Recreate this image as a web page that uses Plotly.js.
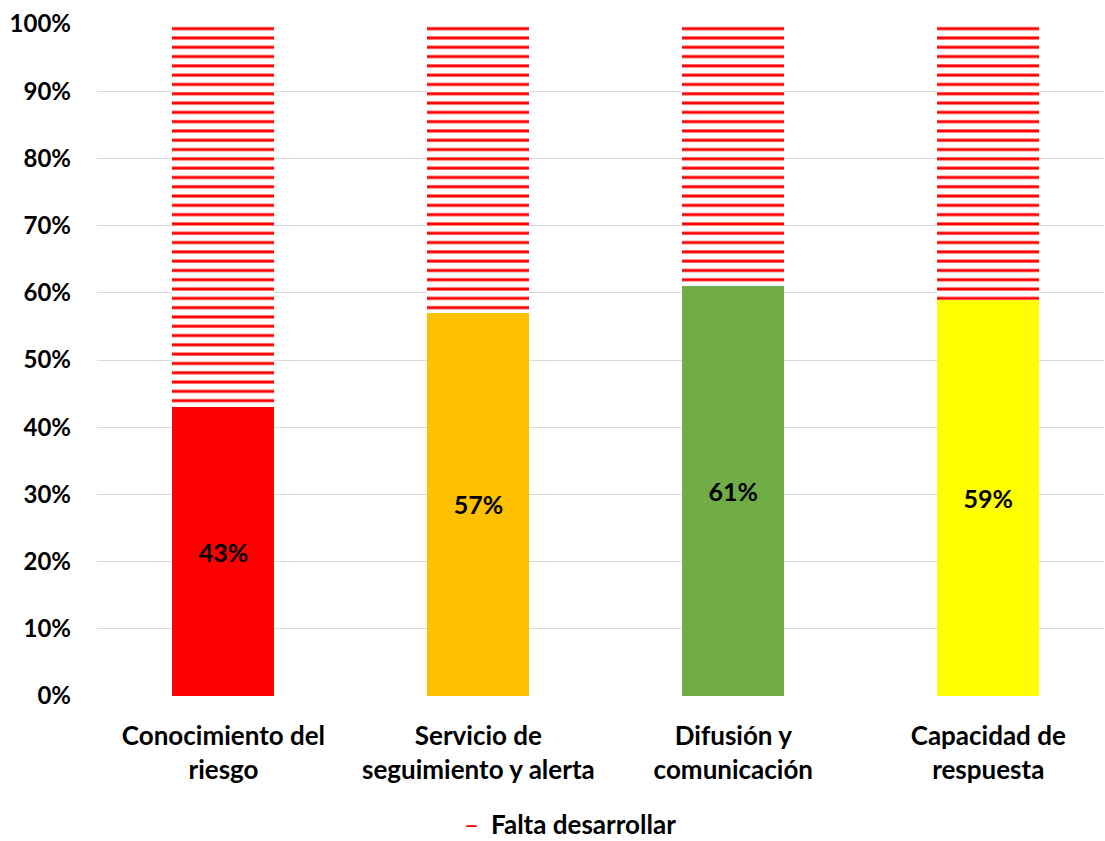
<!DOCTYPE html>
<html>
<head>
<meta charset="utf-8">
<script src="https://cdn.plot.ly/plotly-3.0.1.min.js"></script>
<style>
  html, body { margin: 0; padding: 0; background: #ffffff; }
  #chart { width: 1105px; height: 841px; }
</style>
</head>
<body>
<div id="chart"></div>
<script>
// Early-warning system components: share already developed vs. still missing
const categories = [
  'Conocimiento del<br>riesgo',
  'Servicio de<br>seguimiento y alerta',
  'Difusión y<br>comunicación',
  'Capacidad de<br>respuesta'
];
const developed = [43, 57, 61, 59];
const pending = [57, 43, 39, 41];
const barColors = ['#FF0000', '#FFC000', '#70AD47', '#FFFF00'];
const pendingName = 'Falta desarrollar';
const pendingColor = '#FF0000';
const yTicks = [0, 10, 20, 30, 40, 50, 60, 70, 80, 90, 100];
const yTickLabels = yTicks.map(v => v + '%');

const FONT = 'Lato, "Open Sans", sans-serif';

const traces = [
  {
    type: 'bar',
    x: categories,
    y: developed,
    marker: { color: barColors, line: { width: 0 } },
    text: developed.map(v => '<b>' + v + '%</b>'),
    textposition: 'inside',
    insidetextanchor: 'middle',
    textangle: 0,
    textfont: { family: FONT, size: 25, color: '#000000' },
    hoverinfo: 'skip',
    showlegend: false
  },
  {
    type: 'bar',
    name: pendingName,
    x: categories,
    y: pending,
    marker: {
      color: '#ffffff',
      line: { width: 0 },
      pattern: { shape: '-', fgcolor: pendingColor, bgcolor: '#ffffff', size: 9.3, solidity: 0.32 }
    },
    hoverinfo: 'skip',
    showlegend: false
  }
];

const layout = {
  width: 1105,
  height: 841,
  barmode: 'stack',
  bargap: 0.6,
  paper_bgcolor: '#ffffff',
  plot_bgcolor: '#ffffff',
  margin: { l: 97, r: 1, t: 24, b: 145 },
  showlegend: false,
  font: { family: FONT, color: '#000000' },
  xaxis: {
    range: [-0.496, 3.454],
    showgrid: false,
    zeroline: false,
    showline: false,
    ticks: '',
    tickfont: { family: FONT, size: 26, color: '#000000', weight: 'bold' },
    ticklabelstandoff: 22
  },
  yaxis: {
    range: [0, 100],
    tickvals: yTicks,
    ticktext: yTickLabels,
    showgrid: true,
    gridcolor: '#d9d9d9',
    gridwidth: 1,
    zeroline: false,
    showline: false,
    ticks: '',
    tickfont: { family: FONT, size: 24, color: '#000000', weight: 'bold' },
    ticklabelstandoff: 25
  },
  // Legend key for the hatched series: a short red dash followed by its name
  annotations: [
    {
      xref: 'paper', yref: 'paper',
      x: 0.372, y: -0.191,
      xanchor: 'center', yanchor: 'middle',
      showarrow: false,
      text: '–',
      font: { family: FONT, size: 26, color: pendingColor }
    },
    {
      xref: 'paper', yref: 'paper',
      x: 0.389, y: -0.191,
      xanchor: 'left', yanchor: 'middle',
      showarrow: false,
      text: '<b>' + pendingName + '</b>',
      font: { family: FONT, size: 26, color: '#000000' }
    }
  ]
};

Plotly.newPlot('chart', traces, layout, { displayModeBar: false, staticPlot: true });
</script>
</body>
</html>
